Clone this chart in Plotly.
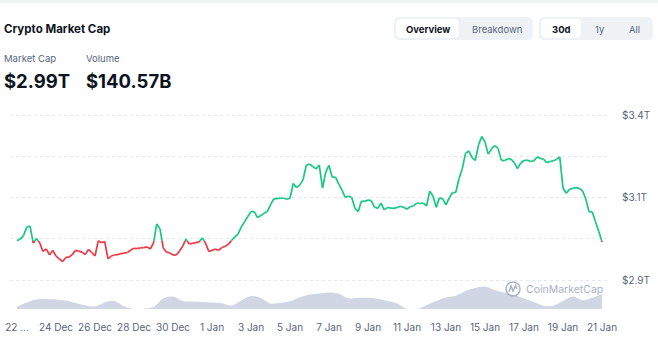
import pandas as pd
import plotly.graph_objects as go

# Total crypto market cap (trillions USD), 4-hourly from 22 Dec 2025 00:00
price_t = [
    2.996, 3.001, 3.011, 3.035, 3.038, 2.990, 3.003, 2.990, 2.966, 2.973,
    2.956, 2.969, 2.953, 2.945, 2.937, 2.949, 2.950, 2.957, 2.969, 2.967,
    2.964, 2.957, 2.972, 2.963, 2.953, 2.996, 2.991, 2.994, 2.945, 2.953,
    2.956, 2.957, 2.960, 2.961, 2.963, 2.970, 2.975, 2.974, 2.976, 2.977,
    2.979, 2.973, 2.990, 3.044, 3.030, 2.976, 2.964, 2.962, 2.956, 2.956,
    2.967, 2.981, 3.001, 2.987, 2.989, 2.991, 2.993, 3.004, 2.990, 2.966,
    2.969, 2.973, 2.969, 2.977, 2.980, 2.986, 2.997, 3.007, 3.015, 3.035,
    3.050, 3.065, 3.079, 3.079, 3.062, 3.068, 3.074, 3.079, 3.098, 3.115,
    3.116, 3.117, 3.117, 3.114, 3.117, 3.159, 3.147, 3.154, 3.169, 3.210,
    3.214, 3.207, 3.200, 3.211, 3.146, 3.191, 3.210, 3.176, 3.177, 3.157,
    3.140, 3.119, 3.123, 3.119, 3.088, 3.079, 3.109, 3.108, 3.112, 3.110,
    3.092, 3.088, 3.103, 3.084, 3.091, 3.089, 3.088, 3.091, 3.094, 3.091,
    3.086, 3.093, 3.095, 3.103, 3.102, 3.103, 3.095, 3.137, 3.123, 3.091,
    3.118, 3.115, 3.098, 3.118, 3.133, 3.133, 3.173, 3.200, 3.244, 3.251,
    3.232, 3.224, 3.268, 3.292, 3.276, 3.242, 3.257, 3.266, 3.259, 3.225,
    3.223, 3.229, 3.228, 3.218, 3.201, 3.217, 3.224, 3.225, 3.221, 3.223,
    3.234, 3.230, 3.228, 3.218, 3.221, 3.223, 3.227, 3.234, 3.146, 3.131,
    3.142, 3.145, 3.147, 3.145, 3.138, 3.115, 3.079, 3.078, 3.050, 3.023,
    2.993,
]

# 24h trading volume (billions USD), 12-hourly from 22 Dec 2025 00:00
vol_b = [
    25, 65, 95, 100, 95, 85, 60, 38, 25, 65,
    80, 25, 0, 3, 20, 105, 125, 80, 75, 70,
    66, 58, 35, 85, 130, 110, 56, 63, 78, 118,
    145, 155, 165, 153, 107, 113, 112, 102, 80, 54,
    0, 0, 38, 80, 115, 132, 180, 210, 225, 188,
    163, 140, 105, 70, 33, 33, 80, 125, 88, 112,
    150,
]

# x-axis ticks every two days
tick_dates = pd.date_range("2025-12-22", "2026-01-21", freq="2D")
tick_labels = ["22 ..."] + [f"{d.day} {d.strftime('%b')}" for d in tick_dates[1:]]

# right-axis gridlines; only every other one carries a label
price_grid = [2.885, 3.002, 3.119, 3.236, 3.353]

headline_cap = "$2.99T"
headline_vol = "$140.57B"

price_time = pd.date_range("2025-12-22", periods=len(price_t), freq="4h")
vol_time = pd.date_range("2025-12-22", periods=len(vol_b), freq="12h")

GREEN = "#16c784"
RED = "#ea3943"

# Split the line into above/below-open segments, cutting exactly at the crossings
base = price_t[0]
gx, gy, rx, ry = [], [], [], []
for i in range(len(price_t) - 1):
    t0, t1 = price_time[i], price_time[i + 1]
    v0, v1 = price_t[i], price_t[i + 1]
    up0, up1 = v0 >= base, v1 >= base
    if up0 == up1:
        xs, ys = (gx, gy) if up0 else (rx, ry)
        xs += [t0, t1, None]
        ys += [v0, v1, None]
    else:
        frac = (base - v0) / (v1 - v0)
        tc = t0 + (t1 - t0) * frac
        a = (gx, gy) if up0 else (rx, ry)
        b = (gx, gy) if up1 else (rx, ry)
        a[0].extend([t0, tc, None]); a[1].extend([v0, base, None])
        b[0].extend([tc, t1, None]); b[1].extend([base, v1, None])

fig = go.Figure()
fig.add_trace(go.Scatter(
    x=vol_time, y=vol_b, yaxis="y2", mode="lines", line=dict(width=0, shape="spline"),
    fill="tozeroy", fillcolor="rgba(203,210,225,0.9)", hoverinfo="skip",
))
fig.add_trace(go.Scatter(x=gx, y=gy, mode="lines", line=dict(color=GREEN, width=1.7),
                         connectgaps=False, hoverinfo="skip"))
fig.add_trace(go.Scatter(x=rx, y=ry, mode="lines", line=dict(color=RED, width=1.7),
                         connectgaps=False, hoverinfo="skip"))

W, H = 658, 337
L, R, T, B = 10, 607, 105, 309
f_px = 0.0028364  # trillions per pixel on the price axis


def px(x):
    return (x - L) / (R - L)


def py(y):
    return (B - y) / (B - T)


def rrect(x0, y0, x1, y1, r):
    pts = [
        ("M", [(x0 + r, y0)]), ("L", [(x1 - r, y0)]), ("Q", [(x1, y0), (x1, y0 + r)]),
        ("L", [(x1, y1 - r)]), ("Q", [(x1, y1), (x1 - r, y1)]), ("L", [(x0 + r, y1)]),
        ("Q", [(x0, y1), (x0, y1 - r)]), ("L", [(x0, y0 + r)]), ("Q", [(x0, y0), (x0 + r, y0)]),
    ]
    s = ""
    for cmd, ps in pts:
        s += cmd + " " + " ".join(f"{px(a):.5f},{py(b):.5f}" for a, b in ps) + " "
    return s + "Z"


shapes = [
    dict(type="rect", xref="paper", yref="paper", x0=px(0), x1=px(W), y0=py(0), y1=py(3),
         fillcolor="#f1f2f4", line=dict(width=0), layer="below"),
    dict(type="path", xref="paper", yref="paper", path=rrect(394, 17, 533, 40, 6),
         fillcolor="#eff2f5", line=dict(width=0)),
    dict(type="path", xref="paper", yref="paper", path=rrect(396, 19, 459, 38, 5),
         fillcolor="#ffffff", line=dict(width=0)),
    dict(type="path", xref="paper", yref="paper", path=rrect(539, 17, 653, 40, 6),
         fillcolor="#eff2f5", line=dict(width=0)),
    dict(type="path", xref="paper", yref="paper", path=rrect(541, 19, 581, 38, 5),
         fillcolor="#ffffff", line=dict(width=0)),
    # watermark logo
    dict(type="circle", xref="paper", yref="paper", x0=px(506), x1=px(520), y0=py(282), y1=py(296),
         line=dict(color="#a9b2c3", width=1.5)),
    dict(type="path", xref="paper", yref="paper",
         path=("M {:.5f},{:.5f} L {:.5f},{:.5f} L {:.5f},{:.5f} L {:.5f},{:.5f} L {:.5f},{:.5f}".format(
             px(509), py(292), px(511), py(286), px(513), py(291), px(515.5), py(285.5), px(517), py(289))),
         line=dict(color="#a9b2c3", width=1.5)),
]

ann = [
    dict(text="<b>Crypto Market Cap</b>", x=px(4), y=py(29), font=dict(size=11.5, color="#0d1421")),
    dict(text="Market Cap", x=px(4), y=py(59), font=dict(size=9.5, color="#58667e")),
    dict(text="Volume", x=px(86), y=py(59), font=dict(size=9.5, color="#58667e")),
    dict(text=f"<b>{headline_cap}</b>", x=px(3.5), y=py(81), font=dict(size=18.5, color="#0d1421")),
    dict(text=f"<b>{headline_vol}</b>", x=px(85.5), y=py(81), font=dict(size=18.5, color="#0d1421")),
    dict(text="<b>Overview</b>", x=px(427.5), y=py(29), xanchor="center", font=dict(size=9.5, color="#0d1421")),
    dict(text="Breakdown", x=px(496.5), y=py(29), xanchor="center", font=dict(size=9.5, color="#58667e")),
    dict(text="<b>30d</b>", x=px(561), y=py(29), xanchor="center", font=dict(size=9.5, color="#0d1421")),
    dict(text="1y", x=px(600), y=py(29), xanchor="center", font=dict(size=9.5, color="#58667e")),
    dict(text="All", x=px(634), y=py(29), xanchor="center", font=dict(size=9.5, color="#58667e")),
    dict(text="CoinMarketCap", x=px(526), y=py(289.5), font=dict(size=10.5, color="#a9b2c3")),
]
for a in ann:
    a.setdefault("xanchor", "left")
    a.update(xref="paper", yref="paper", yanchor="middle", showarrow=False, borderpad=0, borderwidth=0)

x_left = pd.Timestamp("2025-12-22") - pd.Timedelta(days=(17 - L) / 19.5)
x_right = pd.Timestamp("2026-01-21") + pd.Timedelta(days=(R - 602) / 19.5)

fig.update_layout(
    width=W, height=H,
    margin=dict(l=L, r=W - R, t=T, b=H - B, pad=0),
    paper_bgcolor="white", plot_bgcolor="white",
    font=dict(family="Inter, Roboto, sans-serif", color="#58667e", size=10),
    showlegend=False, hovermode=False,
    shapes=shapes, annotations=ann,
    xaxis=dict(
        range=[x_left, x_right], tickvals=tick_dates, ticktext=tick_labels,
        showgrid=False, zeroline=False, showline=False, tickangle=0, automargin=False,
        ticks="outside", ticklen=9, tickcolor="rgba(0,0,0,0)",
        tickfont=dict(size=10, color="#58667e"),
    ),
    yaxis=dict(
        side="right", automargin=False,
        range=[price_grid[0] - (B - 280) * f_px, price_grid[-1] + (115 - T) * f_px],
        tickvals=price_grid,
        ticktext=[f"${v:.1f}T" if i % 2 == 0 else "" for i, v in enumerate(price_grid)],
        showgrid=True, gridcolor="#e3e6eb", griddash="dot", gridwidth=1,
        zeroline=False, showline=False,
        ticks="outside", ticklen=12, tickcolor="rgba(0,0,0,0)",
        tickfont=dict(size=10, color="#58667e"),
    ),
    yaxis2=dict(overlaying="y", range=[0, 2040], visible=False),
)

fig.write_html("out.html", config=dict(displayModeBar=False))
